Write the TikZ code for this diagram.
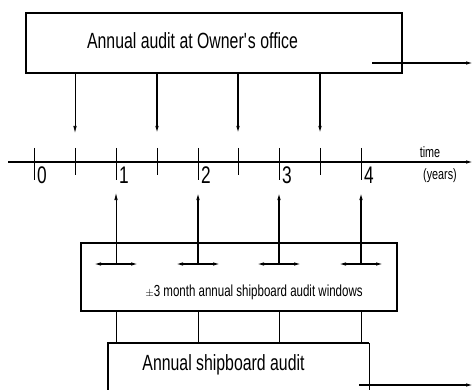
\documentclass[tikz,border=0pt]{standalone}
\usepackage{fontspec}
\setmainfont[FakeStretch=0.72]{Liberation Sans}
\usetikzlibrary{arrows.meta}
\tikzset{
  boxline/.style={line width=1.5pt},
  thinline/.style={line width=0.7pt},
  medline/.style={line width=1.2pt},
  tip/.style={-{Latex[length=7pt,width=3.5pt]}},
  dtip/.style={{Latex[length=7pt,width=3.5pt]}-{Latex[length=7pt,width=3.5pt]}},
  bigtext/.style={inner sep=0pt,font=\fontsize{22}{24}\selectfont},
  midtext/.style={inner sep=0pt,font=\fontsize{16}{18}\selectfont},
  smalltext/.style={inner sep=0pt,font=\fontsize{15}{17}\selectfont},
  digit/.style={inner sep=0pt,anchor=west,font=\fontsize{24}{26}\selectfont},
}
\begin{document}
\begin{tikzpicture}[x=1pt,y=-1pt]
\useasboundingbox (0,0) rectangle (473,390);
% top box
\node[boxline,draw,rectangle,minimum width=376pt,minimum height=60pt,inner sep=0pt] (top) at (214,43) {};
\node[bigtext] (toptext) at (192.5,41) {Annual audit at Owner\textquotesingle s office};
\coordinate (topA) at (372,63);
\coordinate (topB) at (473,63);
\draw[medline,tip] (topA) -- (topB);
% timeline
\coordinate (axL) at (8,162);
\coordinate (axR) at (473,162);
\draw[medline,tip] (axL) -- (axR);
\foreach \i/\x in {0/34,1/116,2/198,3/279,4/361}{
  \coordinate (t\i) at (\x,162);
  \draw[thinline] (\x,148) -- (\x,180);
  \node[digit] (d\i) at (\x+3,175) {\i};
}
\foreach \j/\x in {1/75,2/157,3/238,4/320}{
  \coordinate (h\j) at (\x,162);
  \draw[thinline] (\x,148) -- (\x,175);
  \coordinate (hd\j) at (\x,133);
}
\node[smalltext] (time) at (430,152) {time};
\node[smalltext] (years) at (440,176) {(years)};
% down arrows from top box
\draw[thinline,tip] (top.south -| hd1) -- (hd1);
\foreach \j in {2,3,4}{
  \draw[medline,tip] (top.south -| hd\j) -- (hd\j);
}
% window box
\node[boxline,draw,rectangle,minimum width=316pt,minimum height=68pt,inner sep=0pt] (win) at (239,277) {};
\node[midtext] (wintext) at (254,292) {$\scriptstyle\pm$3 month annual shipboard audit windows};
\foreach \i/\x in {1/116,2/198,3/279,4/361}{
  \coordinate (c\i) at (\x,264);
  \coordinate (cl\i) at (\x-22,264);
  \coordinate (cr\i) at (\x+22,264);
  \coordinate (u\i) at (\x,193);
  \draw[medline,dtip] (cl\i) -- (cr\i);
}
\draw[thinline,tip] (c1) -- (u1);
\foreach \i in {2,3,4}{
  \draw[medline,tip] (c\i) -- (u\i);
}
% bottom box (open at bottom)
\coordinate (bbL) at (108,392);
\coordinate (bbTL) at (108,343);
\coordinate (bbTR) at (369,343);
\coordinate (bbR) at (369,392);
\draw[boxline] (bbL) -- (bbTL) -- (bbTR);
\draw[thinline] (bbTR) -- (bbR);
\node[bigtext] (bottext) at (223.5,365) {Annual shipboard audit};
\foreach \i in {1,2,3,4}{
  \draw[thinline] (win.south -| c\i) -- (bbTL -| c\i);
}
\coordinate (botA) at (359,385);
\coordinate (botB) at (473,385);
\draw[medline,tip] (botA) -- (botB);
\end{tikzpicture}
\end{document}
